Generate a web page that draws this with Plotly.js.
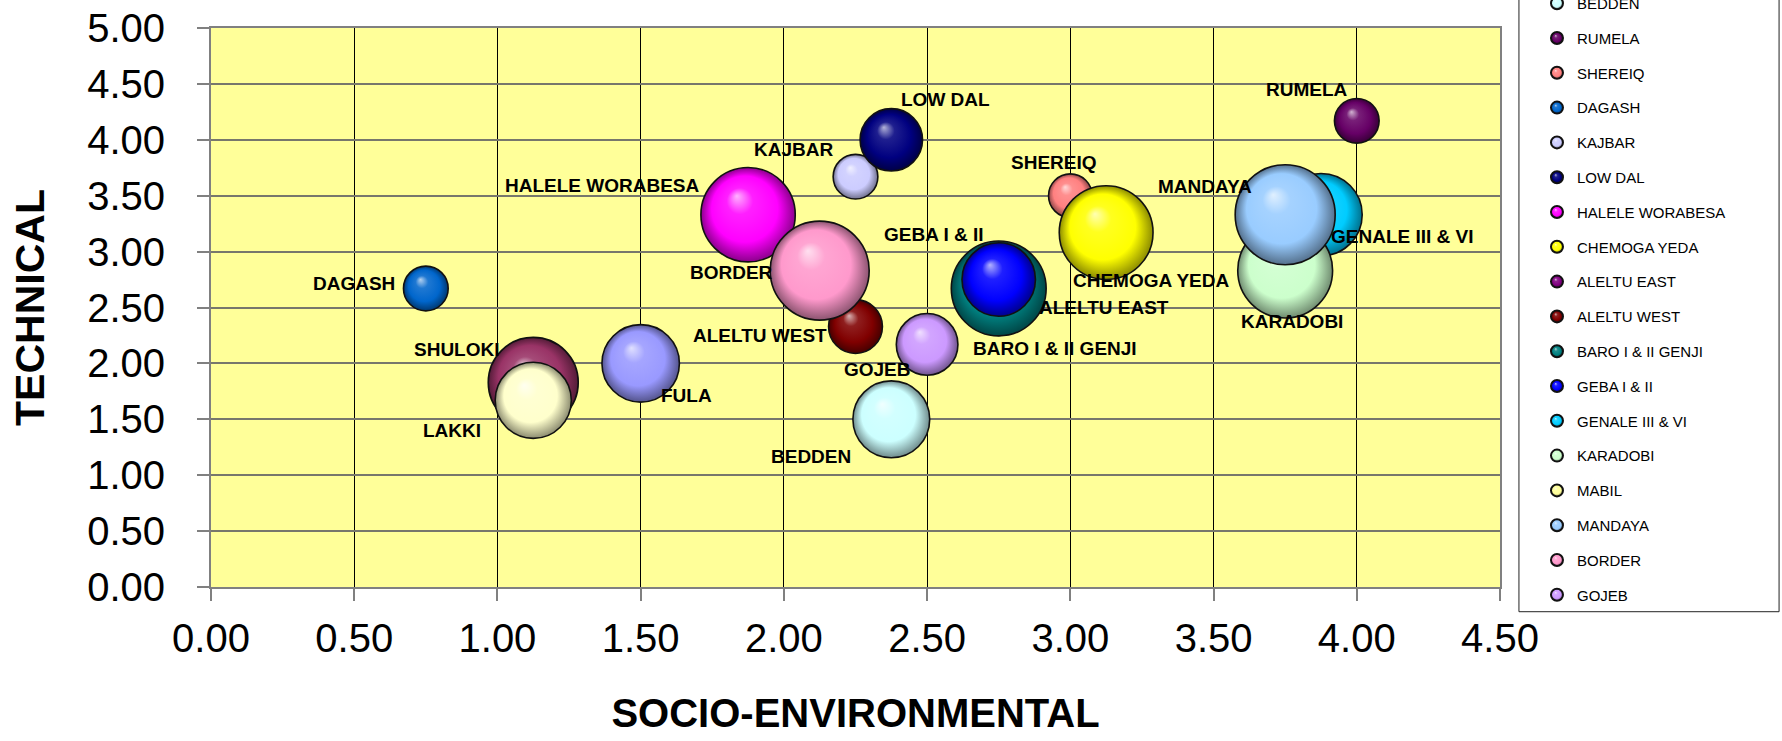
<!DOCTYPE html>
<html>
<head>
<meta charset="utf-8">
<script src="https://cdn.plot.ly/plotly-3.0.1.min.js"></script>
<style>
  html, body { margin: 0; padding: 0; background: #ffffff; }
  #chart { width: 1782px; height: 741px; }
</style>
</head>
<body>
<div id="chart"></div>
<script>
// Hydropower projects ranked on two criteria; bubble area shows the project score weight.
const projects = ['FULA', 'SHULOKI', 'LAKKI', 'BEDDEN', 'RUMELA', 'SHEREIQ', 'DAGASH', 'KAJBAR',
  'LOW DAL', 'HALELE WORABESA', 'CHEMOGA YEDA', 'ALELTU EAST', 'ALELTU WEST', 'BARO I & II GENJI',
  'GEBA I & II', 'GENALE III & VI', 'KARADOBI', 'MABIL', 'MANDAYA', 'BORDER', 'GOJEB'];
const socioEnvironmental = [1.50, 1.125, 1.125, 2.375, 4.00, 3.00, 0.75, 2.25,
  2.375, 1.875, 3.125, 2.75, 2.25, 2.75,
  2.75, 3.875, 3.75, null, 3.75, 2.125, 2.50];
const technical = [2.00, 1.83, 1.67, 1.50, 4.17, 3.50, 2.67, 3.67,
  4.00, 3.33, 3.17, 2.50, 2.33, 2.67,
  2.75, 3.33, 2.83, null, 3.33, 2.83, 2.17];
const bubbleSize = [60, 81, 58, 59, 20, 19, 20, 20,
  39, 89, 88, 31, 29, 90,
  54, 68, 90, null, 100, 98, 38];

const xTickVals = [0, 0.5, 1, 1.5, 2, 2.5, 3, 3.5, 4, 4.5];
const xTickLabels = ['0.00', '0.50', '1.00', '1.50', '2.00', '2.50', '3.00', '3.50', '4.00', '4.50'];
const yTickVals = [0, 0.5, 1, 1.5, 2, 2.5, 3, 3.5, 4, 4.5, 5];
const yTickLabels = ['0.00', '0.50', '1.00', '1.50', '2.00', '2.50', '3.00', '3.50', '4.00', '4.50', '5.00'];

// Fill colour of each bubble
const fillColors = {
  'FULA': '#9999FF', 'SHULOKI': '#993366', 'LAKKI': '#FFFFCC', 'BEDDEN': '#CCFFFF',
  'RUMELA': '#660066', 'SHEREIQ': '#FF8080', 'DAGASH': '#0066CC', 'KAJBAR': '#CCCCFF',
  'LOW DAL': '#000080', 'HALELE WORABESA': '#FF00FF', 'CHEMOGA YEDA': '#FFFF00',
  'ALELTU EAST': '#800080', 'ALELTU WEST': '#800000', 'BARO I & II GENJI': '#008080',
  'GEBA I & II': '#0000FF', 'GENALE III & VI': '#00CCFF', 'KARADOBI': '#CCFFCC',
  'MABIL': '#FFFF99', 'MANDAYA': '#99CCFF', 'BORDER': '#FF99CC', 'GOJEB': '#CC99FF'
};
const notInLegend = ['FULA', 'SHULOKI', 'LAKKI'];

// Label placement around each bubble, in pixels (right, down)
const labelOffset = {
  'DAGASH': [-72, -5], 'SHULOKI': [-76, -33], 'LAKKI': [-81, 30], 'FULA': [46, 32],
  'HALELE WORABESA': [-146, -29], 'LOW DAL': [54, -40], 'KAJBAR': [-62, -27],
  'BORDER': [-88, 2], 'GEBA I & II': [-65, -45], 'SHEREIQ': [-16, -33],
  'CHEMOGA YEDA': [45, 48], 'ALELTU EAST': [105, 0], 'ALELTU WEST': [-96, 9],
  'BARO I & II GENJI': [56, 60], 'GOJEB': [-50, 25], 'BEDDEN': [-80, 37],
  'RUMELA': [-50, -31], 'MANDAYA': [-80, -28], 'GENALE III & VI': [82, 22],
  'KARADOBI': [7, 51]
};

const FONT = "'Liberation Sans', Arial, Helvetica, sans-serif";

function hexToRgb(h) {
  const n = parseInt(h.slice(1), 16);
  return [(n >> 16) & 255, (n >> 8) & 255, n & 255];
}
function mixWhite(h, t) {
  const c = hexToRgb(h).map(v => Math.round(v + (255 - v) * t));
  return 'rgb(' + c.join(',') + ')';
}

const traces = projects.map((name, i) => ({
  type: 'scatter',
  mode: 'markers',
  name: name,
  legendgroup: name,
  showlegend: notInLegend.indexOf(name) < 0,
  x: [socioEnvironmental[i]],
  y: [technical[i]],
  marker: {
    // a project without a size still gets a normal legend symbol
    size: bubbleSize[i] === null ? 12 : [bubbleSize[i]],
    sizemode: 'area',
    sizeref: 0.02,
    color: fillColors[name],
    opacity: 1,
    line: { color: '#111111', width: 1.6 },
    gradient: { type: 'radial', color: mixWhite(fillColors[name], 0.6) }
  },
  hoverinfo: 'name+x+y'
}));

const annotations = projects.map((name, i) => {
  const off = labelOffset[name];
  if (!off || socioEnvironmental[i] === null) return null;
  return {
    x: socioEnvironmental[i], y: technical[i], xref: 'x', yref: 'y',
    text: name, showarrow: false,
    xanchor: 'center', yanchor: 'middle',
    xshift: off[0], yshift: -off[1],
    font: { family: FONT, size: 19, color: '#000000', weight: 700 }
  };
}).filter(a => a);

const layout = {
  width: 1782, height: 741,
  margin: { l: 211, r: 282, t: 28, b: 154, autoexpand: false },
  paper_bgcolor: '#ffffff',
  plot_bgcolor: '#FFFF99',
  font: { family: FONT, color: '#000000' },
  showlegend: true,
  legend: {
    x: 1.0287, xanchor: 'left', y: 1.0734, yanchor: 'top',
    bgcolor: 'rgba(0,0,0,0)', borderwidth: 0, maxheight: 1200,
    font: { family: FONT, size: 15, color: '#000000' },
    tracegroupgap: 12.3, itemsizing: 'constant'
  },
  shapes: [{
    type: 'rect', xref: 'paper', yref: 'paper', layer: 'below',
    x0: 1.0147, x1: 1.2165, y0: -0.0442, y1: 1.3,
    line: { color: '#222222', width: 1 }, fillcolor: '#ffffff'
  }],
  xaxis: {
    range: [0, 4.5], tickmode: 'array', tickvals: xTickVals, ticktext: xTickLabels,
    showgrid: true, gridcolor: '#000000', gridwidth: 1, zeroline: false,
    showline: true, linecolor: '#808080', linewidth: 2, mirror: true,
    ticks: 'outside', ticklen: 12, tickwidth: 2, tickcolor: '#808080',
    tickfont: { family: FONT, size: 40, color: '#000000' },
    ticklabelstandoff: 3,
    title: { text: 'SOCIO-ENVIRONMENTAL', standoff: 40,
      font: { family: FONT, size: 40, color: '#000000', weight: 700 } }
  },
  yaxis: {
    range: [0, 5], tickmode: 'array', tickvals: yTickVals, ticktext: yTickLabels,
    showgrid: true, gridcolor: '#77776c', gridwidth: 2, zeroline: false,
    showline: true, linecolor: '#808080', linewidth: 2, mirror: true,
    ticks: 'outside', ticklen: 12, tickwidth: 2, tickcolor: '#808080',
    tickfont: { family: FONT, size: 40, color: '#000000' },
    ticklabelstandoff: 24,
    title: { text: 'TECHNICAL', standoff: 30,
      font: { family: FONT, size: 41, color: '#000000', weight: 700 } }
  },
  annotations: annotations
};

// Give the radial fills an off-centre highlight and a darker rim so the bubbles read as spheres
function parseRgb(s) {
  const m = (s || '').match(/[\d.]+/g);
  return m ? m.slice(0, 3).map(Number) : [128, 128, 128];
}
function rgbStr(c) { return 'rgb(' + c.map(v => Math.max(0, Math.min(255, Math.round(v)))).join(',') + ')'; }
function shadeSpheres(gd) {
  const NS = 'http://www.w3.org/2000/svg';
  gd.querySelectorAll('radialGradient').forEach(g => {
    const stops = g.querySelectorAll('stop');
    if (stops.length < 2) return;
    const a = parseRgb(stops[0].getAttribute('stop-color'));
    const b = parseRgb(stops[stops.length - 1].getAttribute('stop-color'));
    const sum = c => c[0] + c[1] + c[2];
    const base = sum(a) < sum(b) ? a : b;
    const hi = base.map(v => v + (255 - v) * 0.7);
    const dark = base.map(v => v * 0.55);
    while (g.firstChild) g.removeChild(g.firstChild);
    [[0, hi], [0.28, base.map(v => v + (255 - v) * 0.12)], [0.7, base], [1, dark]].forEach(([o, c]) => {
      const s = document.createElementNS(NS, 'stop');
      s.setAttribute('offset', (o * 100) + '%');
      s.setAttribute('stop-color', rgbStr(c));
      g.appendChild(s);
    });
    g.setAttribute('cx', '0.5'); g.setAttribute('cy', '0.5'); g.setAttribute('r', '0.5');
    g.setAttribute('fx', '0.38'); g.setAttribute('fy', '0.3');
  });
}

Plotly.newPlot('chart', traces, layout, { displayModeBar: false, staticPlot: true })
  .then(gd => shadeSpheres(gd));
</script>
</body>
</html>
